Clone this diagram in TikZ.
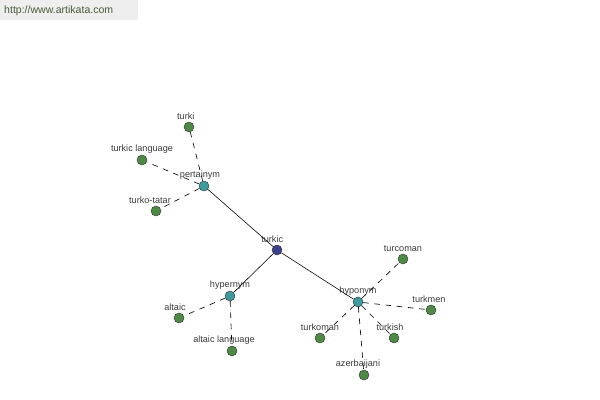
\documentclass[tikz,border=0pt]{standalone}
\usepackage{fontspec}
\setmainfont{Liberation Sans}
\usetikzlibrary{positioning}
\definecolor{leafgreen}{HTML}{4E8A45}
\definecolor{relteal}{HTML}{3E9A9C}
\definecolor{rootblue}{HTML}{3D3F8F}
\definecolor{urlgray}{HTML}{EEEEEE}
\definecolor{urltext}{HTML}{4A5A3A}
\definecolor{lbltext}{HTML}{3A3A3A}

\begin{document}
\begin{tikzpicture}[x=0.025cm,y=-0.025cm]
\tikzstyle{every node}=[circle,draw=black!80,line width=0.3pt,minimum size=2.5mm,inner sep=0pt,
  label distance=0pt]
\tikzstyle{every label}=[draw=none,rectangle,font=\fontsize{6.5}{7.5}\selectfont,text=lbltext,inner sep=0.6pt]
\tikzstyle{leaf}=[fill=leafgreen]
\tikzstyle{rel}=[fill=relteal]
\tikzstyle{link}=[dash pattern=on 4pt off 4pt,line width=0.45pt]
\useasboundingbox (0,0) rectangle (600,400);
\fill[urlgray] (0,0) rectangle (138,20);
\node[draw=none,rectangle,anchor=west,text=urltext,font=\fontsize{7.5}{9}\selectfont] (url) at (4,11) {http://www.artikata.com};

\node[fill=rootblue,label={[xshift=-1.2mm]above:turkic}] (turkic) at (277,250) {};
\node[rel,label={[xshift=-1mm]above:pertainym}] (pert) at (204,186) {};
\node[rel,label=above:hypernym] (hyper) at (230,296) {};
\node[rel,label=above:hyponym] (hypo) at (358,302) {};

\node[leaf,label={[xshift=-0.8mm]above:turki}] (turki) at (189,127) {};
\node[leaf,label=above:turkic language] (tlang) at (142,160) {};
\node[leaf,label={[xshift=-1.5mm]above:turko-tatar}] (ttatar) at (156,211) {};

\node[leaf,label={[xshift=-1mm]above:altaic}] (altaic) at (179,318) {};
\node[leaf,label={[xshift=-2mm]above:altaic language}] (alang) at (232,351) {};

\node[leaf,label=above:turcoman] (turcoman) at (403,259) {};
\node[leaf,label={[xshift=-0.5mm]above:turkmen}] (turkmen) at (431,310) {};
\node[leaf,label=above:turkoman] (turkoman) at (320,338) {};
\node[leaf,label={[xshift=-1mm]above:turkish}] (turkish) at (394,338) {};
\node[leaf,label={[xshift=-1.5mm]above:azerbaijani}] (azer) at (364,375) {};

% relations from the root
\draw[line width=0.4pt] (turkic) -- (pert);
\draw[line width=0.4pt] (turkic) -- (hyper);
\draw[line width=0.4pt] (turkic) -- (hypo);

% words of each relation
\draw[link] (pert) -- (turki);
\draw[link] (pert) -- (tlang);
\draw[link] (pert) -- (ttatar);
\draw[link] (hyper) -- (altaic);
\draw[link] (hyper) -- (alang);
\draw[link] (hypo) -- (turcoman);
\draw[link] (hypo) -- (turkmen);
\draw[link] (hypo) -- (turkoman);
\draw[link] (hypo) -- (turkish);
\draw[link] (hypo) -- (azer);
\end{tikzpicture}
\end{document}
